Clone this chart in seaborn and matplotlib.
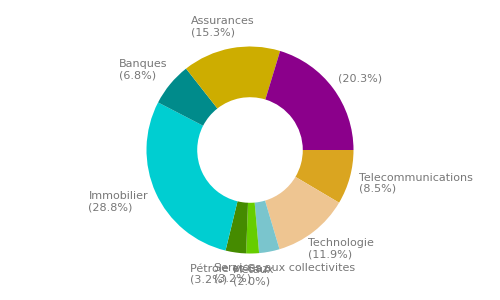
import numpy as np
import matplotlib
matplotlib.use("Agg")
import matplotlib.pyplot as plt
import seaborn as sns

sns.set_theme(style="white")
plt.rcParams['font.family'] = ['DejaVu Sans']

categories = ["Telecommunications", "Technologie", "Services aux collectivites",
              "Métaux", "Pétrole et Gaz", "Immobilier", "Banques", "Assurances", ""]
values = [8.5, 11.9, 3.2, 2.0, 3.2, 28.8, 6.8, 15.3, 20.3]
colors = ["#DAA520", "#EEC591", "#7AC5CD", "#66CD00", "#458B00",
          "#00CED1", "#008B8B", "#CDAD00", "#8B008B"]

W, H, DPI = 500, 300, 100
R_PX = 103.5
fig = plt.figure(figsize=(W / DPI, H / DPI), dpi=DPI)
ax = fig.add_axes([0, 0, 1, 1])

wedges, _ = ax.pie(values, colors=colors, startangle=0, counterclock=False,
                   radius=1.0, center=(0, 0), frame=False,
                   wedgeprops=dict(width=0.49, linewidth=0))
ax.set_xlim(-W / 2 / R_PX, W / 2 / R_PX)
ax.set_ylim(-H / 2 / R_PX, H / 2 / R_PX)
ax.set_aspect("equal")
ax.axis("off")

total = sum(values)
texts = []
cum = 0.0
for name, v in zip(categories, values):
    mid = (cum + v / 2) / total * 2 * np.pi
    cum += v
    c, s = np.cos(mid), -np.sin(mid)  # clockwise from 3 o'clock
    lbl = f"({v:.1f}%)" if name == "" else f"{name}\n({v:.1f}%)"
    r = 1.11
    t = ax.text(r * c, r * s, lbl, ha="center", va="center", fontsize=8,
                color="#777777", linespacing=1.15, multialignment="left")
    texts.append((t, c, s, r))

fig.canvas.draw()
renderer = fig.canvas.get_renderer()
for t, c, s, r in texts:
    bb = t.get_window_extent(renderer)
    w = bb.width / R_PX
    h = bb.height / R_PX
    t.set_position((r * c + w / 2 * c, r * s + h / 2 * s))

fig.savefig("out.png", dpi=DPI, facecolor="white")
